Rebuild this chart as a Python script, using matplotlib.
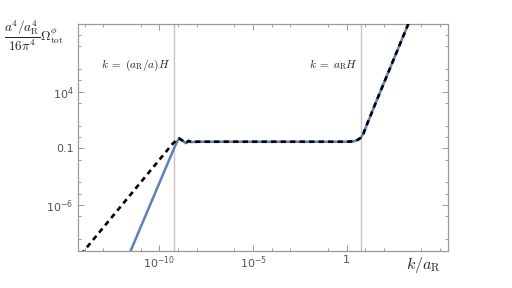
import matplotlib
matplotlib.use("Agg")
import matplotlib.pyplot as plt
import numpy as np

# ── Style ─────────────────────────────────────────────────────────────────────
FRAME = "#9a9a9a"
TICK_TXT = "#555555"
VLINE = "#c4c4c4"
BLUE = "#5e81b5"

plt.rcParams.update({
    "font.family": "DejaVu Sans",
    "mathtext.fontset": "cm",
})

# ── Data (log10 values) ──────────────────────────────────────────────────────
# exact spectrum (blue, solid)
BLUE_LOGK = [-11.7, -9.3, -9.1, -8.95, -8.75, -8.6, -8.45,
             -8.3, -8.0, 0.0, 0.4, 0.6, 0.75, 0.9, 1.1, 1.5, 3.4]
BLUE_LOGO = [-10.65, -1.3, -0.55, -0.12, -0.35, -0.55, -0.35,
             -0.45, -0.42, -0.42, -0.38, -0.25, -0.08, 0.3, 1.15, 2.78, 10.36]

# approximation (black, dashed)
DASH_LOGK = [-14.2, -9.6, -9.3, -9.1, -8.95, -8.75, -8.6, -8.45,
             -8.3, -8.0, 0.0, 0.4, 0.6, 0.75, 0.9, 1.1, 1.5, 3.4]
DASH_LOGO = [-10.36, -1.2, -0.6, -0.3, -0.12, -0.35, -0.55, -0.35,
             -0.45, -0.42, -0.42, -0.38, -0.25, -0.08, 0.3, 1.15, 2.78, 10.36]

# horizon-crossing markers
VLINES_LOGK = [-9.2, 0.78]

# ticks
X_MAJOR = [-10, -5, 0]
X_MAJOR_LBL = [r"$\mathregular{10^{-10}}$", r"$\mathregular{10^{-5}}$", "1"]
X_MINOR = [-14, -13, -11, -9, -8, -6, -4, -3, -1, 1, 2, 4, 5]
Y_MAJOR = [4, -1, -6]
Y_MAJOR_LBL = [r"$\mathregular{10^{4}}$", "0.1", r"$\mathregular{10^{-6}}$"]
Y_MINOR = [9, 8, 6, 5, 3, 1, 0, -2, -4, -5, -7, -9]

# ── Figure ───────────────────────────────────────────────────────────────────
fig = plt.figure(figsize=(5.12, 2.88), dpi=100)
ax = fig.add_axes([0.1518, 0.1302, 0.7232, 0.7865])

for lk in VLINES_LOGK:
    ax.axvline(10.0 ** lk, color=VLINE, linewidth=1.0, zorder=1)

ax.plot(np.power(10.0, BLUE_LOGK), np.power(10.0, BLUE_LOGO),
        color=BLUE, linewidth=1.8, zorder=2)
ax.plot(np.power(10.0, DASH_LOGK), np.power(10.0, DASH_LOGO),
        color="black", linewidth=1.9, linestyle=(0, (2.0, 1.6)), zorder=3)

ax.set_xscale("log")
ax.set_yscale("log")
ax.set_xlim(10.0 ** -14.37, 10.0 ** 5.42)
ax.set_ylim(1e-10, 10.0 ** 9.95)

ax.set_xticks([10.0 ** v for v in X_MAJOR])
ax.set_xticklabels(X_MAJOR_LBL)
ax.set_xticks([10.0 ** v for v in X_MINOR], minor=True)
ax.set_xticklabels([], minor=True)
ax.set_yticks([10.0 ** v for v in Y_MAJOR])
ax.set_yticklabels(Y_MAJOR_LBL)
ax.set_yticks([10.0 ** v for v in Y_MINOR], minor=True)
ax.set_yticklabels([], minor=True)

ax.tick_params(which="both", direction="in", top=True, right=True,
               color=FRAME, width=0.7, labelsize=8, labelcolor=TICK_TXT, pad=3)
ax.tick_params(which="major", length=4)
ax.tick_params(which="minor", length=2.5)
for s in ax.spines.values():
    s.set_color(FRAME)
    s.set_linewidth(0.9)

# ── Annotations ──────────────────────────────────────────────────────────────
ax.text(10.0 ** -9.43, 10.0 ** 6.35, r"$k\;=\;(a_{\rm R}/a)H$", ha="right",
        va="center", fontsize=8.2, color="#222222")
ax.text(10.0 ** 0.6, 10.0 ** 6.35, r"$k\;=\;a_{\rm R}H$", ha="right",
        va="center", fontsize=8.2, color="#222222")

fig.text(0.008, 0.875, r"$\dfrac{a^4/a_{\rm R}^4}{16\pi^4}\Omega^{\phi}_{\rm tot}$",
         ha="left", va="center", fontsize=9.5, color="#222222")
fig.text(0.828, 0.08, r"$k/a_{\rm R}$", ha="center", va="center",
         fontsize=11.5, color="#222222")

fig.savefig("out.png", dpi=100)
